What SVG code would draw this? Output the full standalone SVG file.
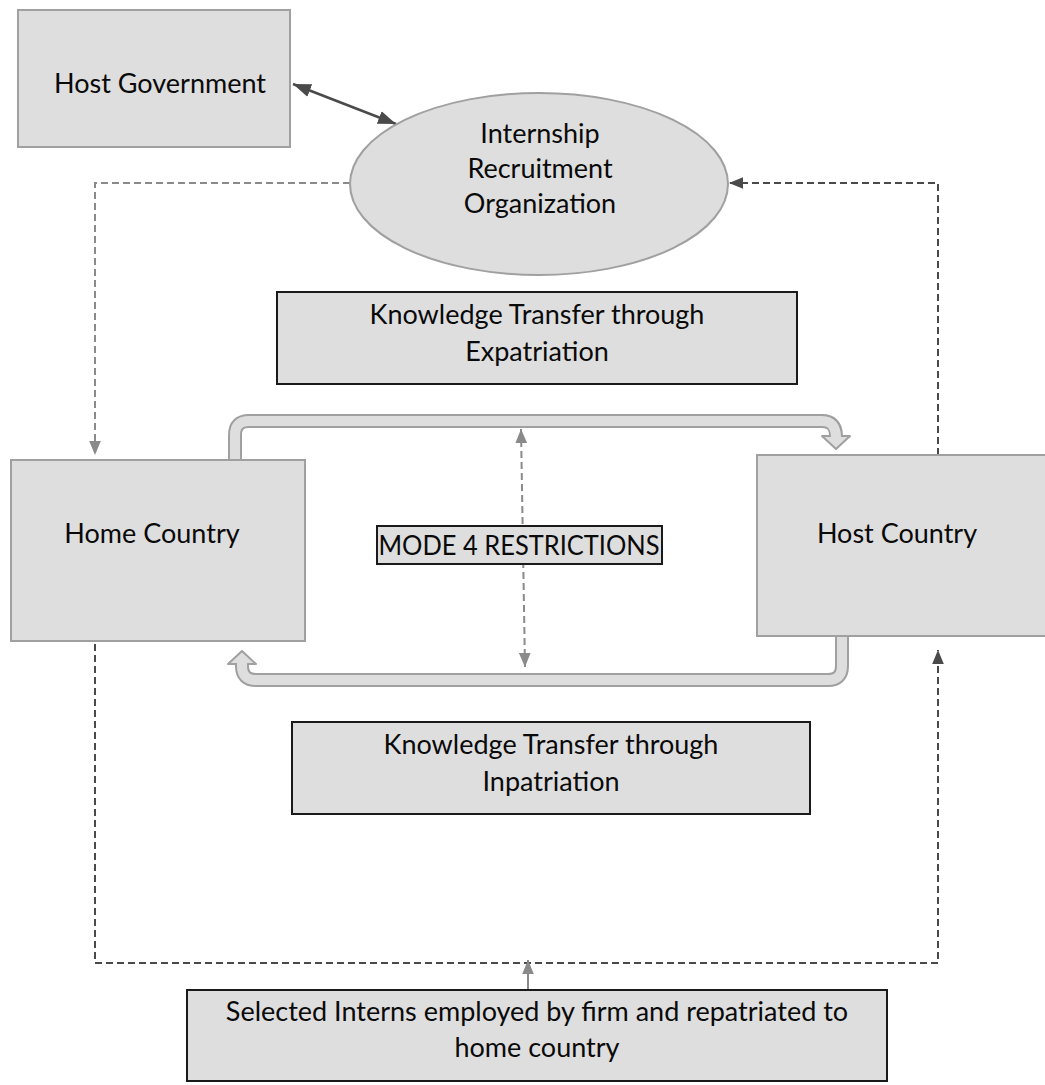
<svg xmlns="http://www.w3.org/2000/svg" width="1045" height="1085" viewBox="0 0 1045 1085">
<style>
  .lt { fill:#dedede; stroke:#a0a0a0; stroke-width:2; }
  .dk { fill:#dedede; stroke:#1a1a1a; stroke-width:2; }
  text { font-family: Lato, "Open Sans", "Liberation Sans", sans-serif; font-size:27px; fill:#0a0a0a; text-anchor:middle; }
  .dg { fill:none; stroke:#8a8a8a; stroke-width:2; stroke-dasharray:7 4; }
  .dd { fill:none; stroke:#4a4a4a; stroke-width:2; stroke-dasharray:7 4; }
  .bo { fill:none; stroke:#a0a0a0; stroke-width:14; }
  .bi { fill:none; stroke:#dedede; stroke-width:10; }
  .ah { fill:#dedede; stroke:#a0a0a0; stroke-width:2; stroke-linejoin:round; }
</style>
<defs>
  <marker id="mDark" viewBox="0 0 12 10" refX="12" refY="5" markerWidth="14" markerHeight="12" markerUnits="userSpaceOnUse" orient="auto-start-reverse">
    <path d="M0,0 L12,5 L0,10 z" fill="#4a4a4a"/>
  </marker>
  <marker id="mGray" viewBox="0 0 12 10" refX="12" refY="5" markerWidth="14" markerHeight="12" markerUnits="userSpaceOnUse" orient="auto-start-reverse">
    <path d="M0,0 L12,5 L0,10 z" fill="#8a8a8a"/>
  </marker>
  <marker id="mBig" viewBox="0 0 16 12" refX="16" refY="6" markerWidth="18" markerHeight="14" markerUnits="userSpaceOnUse" orient="auto-start-reverse">
    <path d="M0,0 L16,6 L0,12 z" fill="#4a4a4a"/>
  </marker>
</defs>

<g id="connectors">
  <line x1="293" y1="84" x2="396" y2="124" stroke="#4a4a4a" stroke-width="2.5" marker-start="url(#mBig)" marker-end="url(#mBig)"/>
  <path class="dg" d="M350,183 H95 V455" marker-end="url(#mGray)"/>
  <path class="dd" d="M938,455 V183 H729" marker-end="url(#mDark)"/>
  <path class="dd" d="M95,644 V963 H938 V650" marker-end="url(#mDark)"/>
  <path d="M528,990 V960" fill="none" stroke="#8a8a8a" stroke-width="2" marker-end="url(#mGray)"/>
  <path class="dg" d="M521,429 L525,667" marker-start="url(#mGray)" marker-end="url(#mGray)"/>

  <g id="block-arrow-top">
    <path class="bo" d="M235,461 V435 Q235,421 249,421 H822 Q836,421 836,436"/>
    <polygon class="ah" points="822,436 850,436 836,449"/>
    <path class="bi" d="M235,462 V435 Q235,421 249,421 H822 Q836,421 836,438"/>
  </g>
  <g id="block-arrow-bottom">
    <path class="bo" d="M842,636 V666 Q842,680 828,680 H256 Q242,680 242,666 V664"/>
    <polygon class="ah" points="228,664 256,664 242,651"/>
    <path class="bi" d="M842,635 V666 Q842,680 828,680 H256 Q242,680 242,666 V662"/>
  </g>
</g>

<g id="host-government">
  <rect class="lt" x="18" y="10" width="272" height="137"/>
  <text x="160" y="93">Host Government</text>
</g>

<g id="internship-recruitment-organization">
  <ellipse class="lt" cx="539" cy="184" rx="189" ry="91"/>
  <text x="540" y="143">Internship</text>
  <text x="540" y="178">Recruitment</text>
  <text x="540" y="213">Organization</text>
</g>

<g id="kt-expatriation">
  <rect class="dk" x="277" y="292" width="520" height="92"/>
  <text x="537" y="324">Knowledge Transfer through</text>
  <text x="537" y="361">Expatriation</text>
</g>

<g id="home-country">
  <rect class="lt" x="11" y="460" width="294" height="181"/>
  <text x="152" y="543">Home Country</text>
</g>

<g id="host-country">
  <rect class="lt" x="757" y="455" width="290" height="181"/>
  <text x="897" y="543">Host Country</text>
</g>

<g id="mode4">
  <rect class="dk" x="377" y="526" width="285" height="38"/>
  <text x="519" y="555" font-size="25" textLength="281" lengthAdjust="spacingAndGlyphs">MODE 4 RESTRICTIONS</text>
</g>

<g id="kt-inpatriation">
  <rect class="dk" x="292" y="722" width="518" height="92"/>
  <text x="551" y="754">Knowledge Transfer through</text>
  <text x="551" y="791">Inpatriation</text>
</g>

<g id="selected-interns">
  <rect class="dk" x="187" y="990" width="700" height="91"/>
  <text x="537" y="1021">Selected Interns employed by firm and repatriated to</text>
  <text x="537" y="1057">home country</text>
</g>
</svg>
